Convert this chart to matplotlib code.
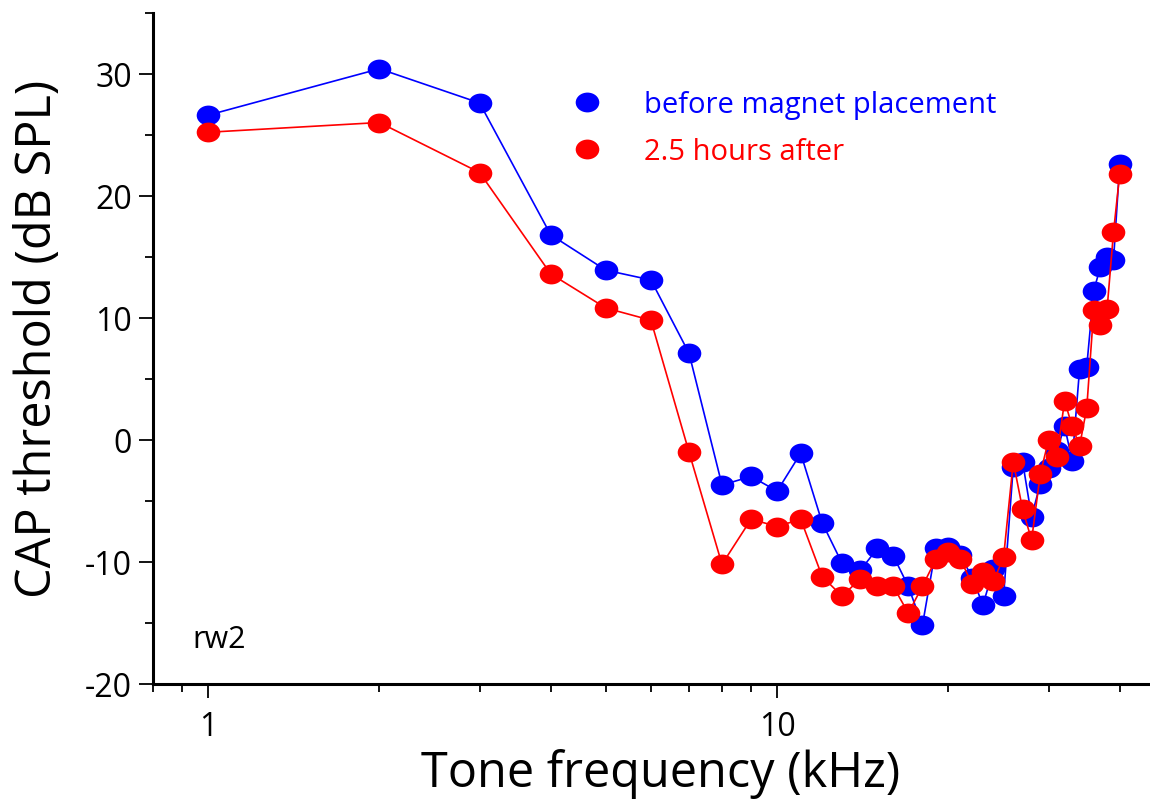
import numpy as np
import matplotlib
matplotlib.use("Agg")
import matplotlib.pyplot as plt
from matplotlib.path import Path
from matplotlib.lines import Line2D
from matplotlib.ticker import FixedLocator, NullFormatter, MultipleLocator

plt.rcParams['font.family'] = ['Open Sans', 'DejaVu Sans']
plt.rcParams['axes.unicode_minus'] = False

freq_khz = [1, 2, 3, 4, 5, 6, 7, 8, 9, 10,
            11, 12, 13, 14, 15, 16, 17, 18, 19, 20,
            21, 22, 23, 24, 25, 26, 27, 28, 29, 30,
            31, 32, 33, 34, 35, 36, 37, 38, 39, 40]

before_db = [26.6, 30.4, 27.6, 16.8, 13.9, 13.1, 7.1, -3.7, -3.0, -4.2,
             -1.1, -6.8, -10.1, -10.7, -8.9, -9.5, -12.0, -15.2, -8.9, -8.8,
             -9.4, -11.3, -13.5, -10.6, -12.8, -2.2, -1.8, -6.3, -3.6, -2.3,
             -0.9, 1.1, -1.7, 5.8, 6.0, 12.2, 14.2, 15.0, 14.7, 22.6]

after_db = [25.2, 26.0, 21.9, 13.6, 10.8, 9.8, -1.0, -10.2, -6.5, -7.1,
            -6.5, -11.2, -12.8, -11.4, -12.0, -12.0, -14.2, -12.0, -9.8, -9.2,
            -9.8, -11.8, -10.8, -11.6, -9.6, -1.8, -5.7, -8.2, -2.8, 0.0,
            -1.4, 3.2, 1.1, -0.5, 2.6, 10.6, 9.4, 10.7, 17.0, 21.8]

series_labels = ['before magnet placement', '2.5 hours after']
series_colors = ['#0000ff', '#ff0000']

# slightly flattened dot, like the original
circ = Path.unit_circle()
oval = Path(circ.vertices * np.array([1.0, 0.84]), circ.codes)

fig = plt.figure(figsize=(11.5, 8.03), dpi=100)
ax = fig.add_axes([0.133, 0.147, 0.866, 0.836])

for yvals, col in zip([before_db, after_db], series_colors):
    ax.plot(freq_khz, yvals, color=col, linewidth=1.2,
            marker=oval, markersize=17, markeredgewidth=0,
            markerfacecolor=col)

ax.set_xscale('log')
ax.set_xlim(0.8, 45)
ax.set_ylim(-20, 35)

ax.xaxis.set_major_locator(FixedLocator([1, 10]))
ax.set_xticklabels(['1', '10'])
ax.xaxis.set_minor_locator(FixedLocator([0.8, 0.9, 2, 3, 4, 5, 6, 7, 8, 9, 20, 30, 40]))
ax.xaxis.set_minor_formatter(NullFormatter())
ax.set_yticks([-20, -10, 0, 10, 20, 30])
ax.yaxis.set_minor_locator(MultipleLocator(5))

for side in ['top', 'right']:
    ax.spines[side].set_visible(False)
for side in ['left', 'bottom']:
    ax.spines[side].set_linewidth(2.2)

ax.tick_params(which='major', direction='out', length=10, width=1.3,
               labelsize=23, pad=5)
ax.tick_params(which='minor', direction='out', length=6, width=1.3)
ax.tick_params(axis='x', which='major', pad=9)

ax.set_xlabel('Tone frequency (kHz)', fontsize=35)
ax.set_ylabel('CAP threshold (dB SPL)', fontsize=35)
ax.xaxis.set_label_coords(0.51, -0.095)
ax.yaxis.set_label_coords(-0.09, 0.515)

ax.text(0.04, 0.067, 'rw2', transform=ax.transAxes, fontsize=22,
        va='center', ha='left')

handles = [Line2D([], [], linestyle='none', marker=oval, markersize=17,
                  markeredgewidth=0, markerfacecolor=c) for c in series_colors]
ax.legend(handles, series_labels, loc='upper left',
          bbox_to_anchor=(0.426, 0.885), frameon=False, fontsize=21,
          handlelength=0.69, handletextpad=1.6, labelspacing=0.62,
          borderpad=0, borderaxespad=0, labelcolor='markerfacecolor')

fig.savefig('out.png', dpi=100)
